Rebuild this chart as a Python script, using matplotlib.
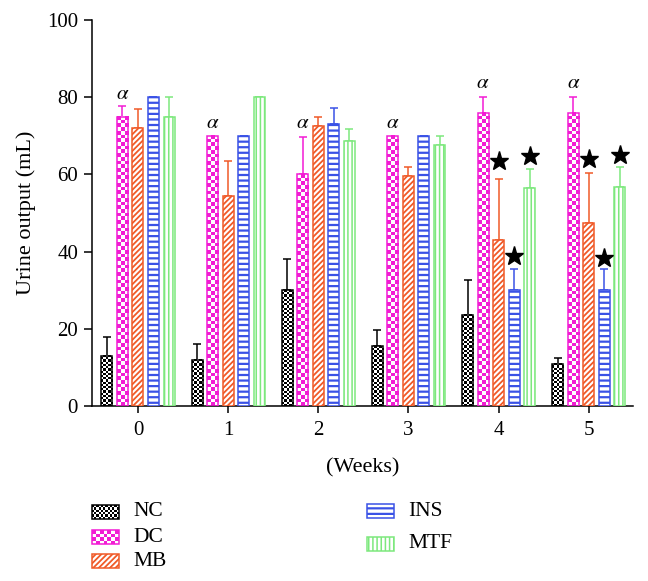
import numpy as np
import matplotlib
matplotlib.use('Agg')
import matplotlib.pyplot as plt
from matplotlib.colors import ListedColormap

weeks = ['0', '1', '2', '3', '4', '5']
groups = ['NC', 'DC', 'MB', 'INS', 'MTF']

# mean urine output (mL) and upper error bar length
nc = [13, 12, 30, 15.5, 23.6, 11]
nc_err = [5, 4, 8, 4.2, 9, 1.4]
dc = [75, 70, 60, 70, 76, 76]
dc_err = [2.7, 0, 9.7, 0, 4, 4]
mb = [72, 54.4, 72.5, 59.6, 43, 47.4]
mb_err = [5, 9.1, 2.5, 2.4, 15.8, 13]
ins = [80, 70, 73, 70, 30, 30]
ins_err = [0, 0, 4.3, 0, 5.5, 5.5]
mtf = [75, 80, 68.7, 67.5, 56.5, 56.8]
mtf_err = [5, 0, 3.1, 2.5, 4.9, 5.2]

# significance marks
alpha_y = [80.8, 73.3, 73.3, 73.3, 83.6, 83.6]
star_weeks = [4, 5]
star_mb = [63.5, 63.9]
star_ins = [38.9, 38.3]
star_mtf = [64.7, 65.0]

plt.rcParams['font.family'] = ['Liberation Serif', 'DejaVu Serif']
plt.rcParams['mathtext.fontset'] = 'stix'

# colour, pattern kind, pattern setting, hatch line width
styles = [
    ('black', 'checker', 2.2, 0),
    ('#f21bd4', 'checker', 3.7, 0),
    ('#f05a28', 'hatch', '//////', 1.3),
    ('#3a52e6', 'hatch', '---', 1.6),
    ('#7de87d', 'hatch', '||||', 1.1),
]


def draw_bars(ax, pos, vals, width, style):
    color, kind, opt, hlw = style
    if kind == 'checker':
        bars = ax.bar(pos, vals, width, fill=False, edgecolor=color, linewidth=1.1, zorder=3)
        cmap = ListedColormap(['white', color])
        for b in bars:
            x0, w, h = b.get_x(), b.get_width(), b.get_height()
            (px0, py0), (px1, py1) = ax.transData.transform([(x0, 0), (x0 + w, h)])
            nc_ = max(1, int(round((px1 - px0) / opt)))
            nr_ = max(1, int(round((py1 - py0) / opt)))
            ii, jj = np.indices((nr_, nc_))
            ax.imshow((ii + jj) % 2, extent=(x0, x0 + w, 0, h), origin='lower', cmap=cmap,
                      interpolation='nearest', aspect='auto', zorder=2, vmin=0, vmax=1)
    else:
        plt.rcParams['hatch.linewidth'] = hlw
        bars = ax.bar(pos, vals, width, color='white', edgecolor=color, hatch=opt,
                      linewidth=1.1, zorder=3)
        for b in bars:
            if hasattr(b, 'set_hatch_linewidth'):
                b.set_hatch_linewidth(hlw)
    return bars


fig = plt.figure(figsize=(6.48, 5.81), dpi=100)
ax = fig.add_axes([92 / 648, 1 - 406 / 581, (633 - 92) / 648, (406 - 20) / 581])
ax.set_xlim(-0.51, 5.49)
ax.set_ylim(0, 100)

x = np.arange(len(weeks))
pitch = 0.172
width = 0.122

values = [nc, dc, mb, ins, mtf]
errors = [nc_err, dc_err, mb_err, ins_err, mtf_err]

for i, (vals, errs, st) in enumerate(zip(values, errors, styles)):
    pos = x + (i - 2) * pitch
    draw_bars(ax, pos, vals, width, st)
    ax.errorbar(pos, vals, yerr=[np.zeros(len(errs)), errs], fmt='none', ecolor=st[0],
                elinewidth=1.1, capsize=3, capthick=1.1, zorder=1)

for k, yy in enumerate(alpha_y):
    ax.text(x[k] - pitch, yy, r'$\alpha$', ha='center', va='center', fontsize=15)

sx = np.array(star_weeks)
ax.plot(sx, star_mb, marker='*', ms=14, color='black', linestyle='none', zorder=4)
ax.plot(sx + pitch, star_ins, marker='*', ms=14, color='black', linestyle='none', zorder=4)
ax.plot(sx + 2 * pitch, star_mtf, marker='*', ms=14, color='black', linestyle='none', zorder=4)

ax.set_xlim(-0.51, 5.49)
ax.set_ylim(0, 100)
ax.set_xticks(x)
ax.set_xticklabels(weeks)
ax.set_yticks([0, 20, 40, 60, 80, 100])
ax.spines['top'].set_visible(False)
ax.spines['right'].set_visible(False)
for s in ['left', 'bottom']:
    ax.spines[s].set_linewidth(1.1)
ax.tick_params(axis='both', direction='out', width=1.1, labelsize=15)
ax.tick_params(axis='x', length=5, pad=6)
ax.tick_params(axis='y', length=6, pad=4)
ax.set_ylabel('Urine output (mL)', fontsize=16, labelpad=8)
ax.set_xlabel('(Weeks)', fontsize=16, labelpad=13)

# legend: small swatch axes drawn with the same styles
legend_pos = [(92, 512), (92, 537), (92, 561), (367, 511), (367, 544)]
W, H = 648, 581
for name, st, (lx, ly) in zip(groups, styles, legend_pos):
    sw = fig.add_axes([lx / W, 1 - (ly + 7) / H, 27 / W, 14 / H])
    sw.set_xlim(0, 1)
    sw.set_ylim(0, 1)
    draw_bars(sw, [0.5], [1], 1.0, st)
    for b in sw.patches:
        b.set_clip_on(False)
    sw.set_axis_off()
    fig.text((lx + 41) / W, 1 - ly / H, name, fontsize=15.5, va='center', ha='left')

fig.savefig('out.png', dpi=100)
